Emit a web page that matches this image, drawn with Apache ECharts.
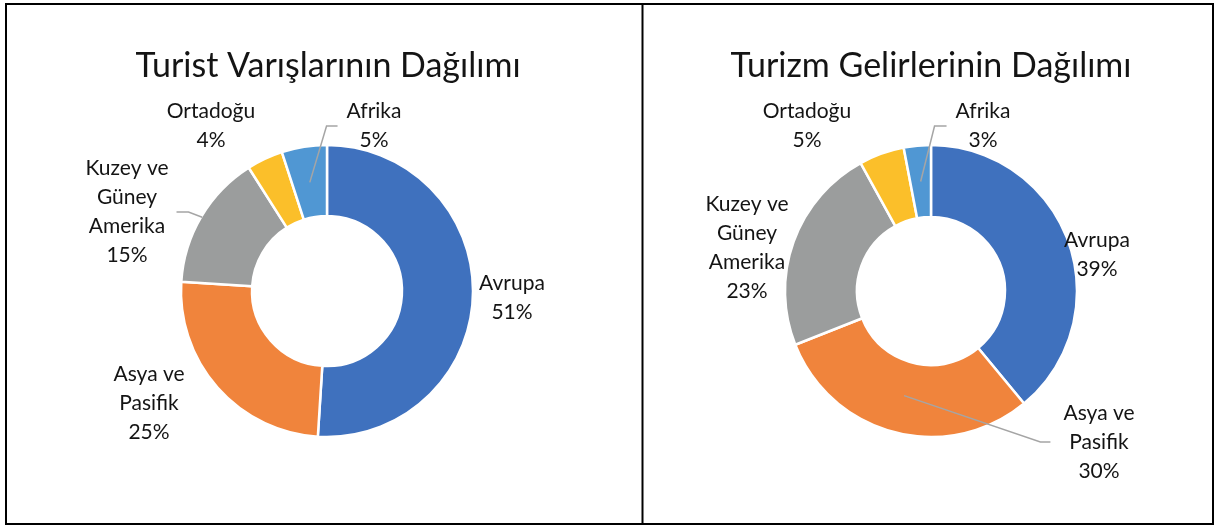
<!DOCTYPE html>
<html>
<head>
<meta charset="utf-8">
<script src="https://cdn.jsdelivr.net/npm/echarts@6/dist/echarts.min.js"></script>
<style>
  html, body { margin: 0; padding: 0; background: #ffffff; }
  #chart { width: 1215px; height: 527px; }
</style>
</head>
<body>
<div id="chart"></div>
<script>
// Regions and their shares (%) of world tourist arrivals and tourism receipts
const regions = ['Avrupa', 'Asya ve Pasifik', 'Kuzey ve Güney Amerika', 'Ortadoğu', 'Afrika'];
const arrivalsShare = [51, 25, 15, 4, 5];
const receiptsShare = [39, 30, 23, 5, 3];
const chartTitles = ['Turist Varışlarının Dağılımı', 'Turizm Gelirlerinin Dağılımı'];

const sliceColors = ['#3F71BE', '#F0843C', '#9B9D9D', '#FBBF2A', '#5097D3'];
const FONT = 'Lato, "Open Sans", sans-serif';
const TEXT = '#141414';
const LEADER = '#a5a5a5';

// Layout of each donut panel: centre, radii, label offsets from the centre and leader lines
const panels = [
  {
    values: arrivalsShare,
    title: chartTitles[0],
    center: [327, 291],
    radius: [75, 146],
    labelOffsets: [[185, 7], [-178, 112], [-200, -79], [-116, -165], [47, -165]],
    leaders: {
      2: { startR: 145, side: 'right', gap: 8, elbow: 12 },
      4: { startR: 110, side: 'left', gap: 9, elbow: 11 }
    }
  },
  {
    values: receiptsShare,
    title: chartTitles[1],
    center: [931, 291],
    radius: [74, 146],
    labelOffsets: [[166, -36], [168, 151], [-184, -43], [-124, -165], [52, -165]],
    leaders: {
      1: { startR: 108, side: 'left', gap: 13, elbow: 10 },
      4: { startR: 110, side: 'left', gap: 9, elbow: 12 }
    }
  }
];

function wrapName(name) {
  return name.replace('ve ', 've\n').replace('Güney ', 'Güney\n');
}

function midAngle(values, i) {
  const total = values.reduce((a, b) => a + b, 0);
  let before = 0;
  for (let k = 0; k < i; k++) before += values[k];
  return ((before + values[i] / 2) / total) * Math.PI * 2;
}

// Coloured donut rings
function ringSeries(panel) {
  return {
    type: 'pie',
    name: panel.title,
    z: 2,
    center: panel.center,
    radius: panel.radius,
    startAngle: 90,
    clockwise: true,
    silent: true,
    animation: false,
    itemStyle: { borderColor: '#ffffff', borderWidth: 2.5 },
    label: { show: false },
    labelLine: { show: false },
    data: regions.map((name, i) => ({
      name: name,
      value: panel.values[i],
      itemStyle: { color: sliceColors[i] }
    }))
  };
}

// Transparent twin ring carrying the data labels, so leader lines sit over the slices
function labelSeries(panel) {
  return {
    type: 'pie',
    name: panel.title + ' etiketler',
    z: 5,
    center: panel.center,
    radius: panel.radius,
    startAngle: 90,
    clockwise: true,
    avoidLabelOverlap: false,
    silent: true,
    animation: false,
    itemStyle: { color: 'rgba(0,0,0,0)', borderWidth: 0 },
    label: {
      show: true,
      position: 'outside',
      fontFamily: FONT,
      fontSize: 21,
      lineHeight: 29,
      color: TEXT,
      align: 'center',
      formatter: p => wrapName(p.name) + '\n' + p.value + '%'
    },
    labelLine: { show: true, lineStyle: { color: LEADER, width: 1.5 } },
    labelLayout: function (params) {
      const i = params.dataIndex;
      const off = panel.labelOffsets[i];
      const x = panel.center[0] + off[0];
      const y = panel.center[1] + off[1];
      const out = { x: x, y: y, align: 'center', verticalAlign: 'middle', hideOverlap: false };
      const ld = panel.leaders[i];
      if (ld) {
        const w = params.labelRect.width;
        const a = midAngle(panel.values, i);
        const sx = panel.center[0] + ld.startR * Math.sin(a);
        const sy = panel.center[1] - ld.startR * Math.cos(a);
        const ex = ld.side === 'left' ? x - w / 2 - ld.gap : x + w / 2 + ld.gap;
        const bx = ld.side === 'left' ? ex - ld.elbow : ex + ld.elbow;
        out.labelLinePoints = [[sx, sy], [bx, y], [ex, y]];
      }
      return out;
    },
    data: regions.map((name, i) => ({
      name: name,
      value: panel.values[i],
      labelLine: { show: !!panel.leaders[i] }
    }))
  };
}

const chart = echarts.init(document.getElementById('chart'), null, { renderer: 'canvas' });

chart.setOption({
  backgroundColor: '#ffffff',
  animation: false,
  graphic: [
    {
      type: 'rect',
      shape: { x: 6, y: 4, width: 1207, height: 520 },
      style: { fill: 'none', stroke: '#000000', lineWidth: 2 },
      silent: true
    },
    {
      type: 'line',
      shape: { x1: 642.5, y1: 4, x2: 642.5, y2: 524 },
      style: { stroke: '#000000', lineWidth: 2 },
      silent: true
    },
    {
      type: 'text',
      x: 328, y: 66,
      style: {
        text: chartTitles[0], fontFamily: FONT, fontSize: 34, fill: TEXT,
        align: 'center', verticalAlign: 'middle'
      },
      silent: true
    },
    {
      type: 'text',
      x: 931, y: 66,
      style: {
        text: chartTitles[1], fontFamily: FONT, fontSize: 34, fill: TEXT,
        align: 'center', verticalAlign: 'middle'
      },
      silent: true
    }
  ],
  series: panels.map(ringSeries).concat(panels.map(labelSeries))
});
</script>
</body>
</html>
